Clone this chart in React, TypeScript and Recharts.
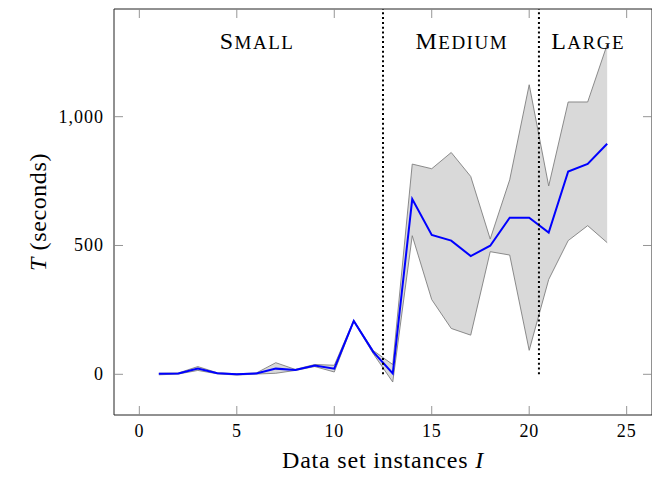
import React from "react";
import {
  ComposedChart,
  Area,
  Line,
  XAxis,
  YAxis,
  ReferenceLine,
  ReferenceArea,
  ReferenceDot,
  Label,
} from "recharts";

// data set instance index
const instances = [1, 2, 3, 4, 5, 6, 7, 8, 9, 10, 11, 12, 13, 14, 15, 16, 17, 18, 19, 20, 21, 22, 23, 24];
// mean runtime (seconds)
const meanT = [2, 3, 22, 4, 0, 3, 22, 17, 34, 22, 207, 87, 3, 680, 541, 519, 459, 499, 608, 608, 550, 787, 817, 895];
// min / max runtime (seconds)
const minT = [-2, 1, 15, 2, -3, 1, 4, 15, 30, 9, 205, 80, -30, 538, 290, 178, 152, 476, 463, 93, 368, 519, 577, 511];
const maxT = [4, 5, 30, 6, 2, 5, 45, 19, 38, 35, 210, 92, 38, 816, 798, 861, 768, 525, 755, 1124, 731, 1057, 1057, 1280];

const xTicks = [0, 5, 10, 15, 20, 25];
const yTicks = [0, 500, 1000];
const groupSplits = [12.5, 20.5];
const groups = [
  { name: "Small", x: 6.0 },
  { name: "Medium", x: 16.5 },
  { name: "Large", x: 22.98 },
];

const X_DOMAIN: [number, number] = [-1.3, 26.3];
const Y_DOMAIN: [number, number] = [-158, 1418];
const PLOT_W = 538;
const PLOT_H = 406;
const TICK = 9;
const FONT = "'Liberation Serif', 'DejaVu Serif', serif";

const data = instances.map((x, i) => ({
  x,
  mean: meanT[i],
  band: [minT[i], maxT[i]],
}));

const XTick = (props: any) => {
  const { x, y, payload } = props;
  return (
    <g>
      <line x1={x} x2={x} y1={y} y2={y - TICK} stroke="#8a8a8a" strokeWidth={0.9} />
      <line x1={x} x2={x} y1={y - PLOT_H} y2={y - PLOT_H + TICK} stroke="#8a8a8a" strokeWidth={0.9} />
      <text x={x} y={y + 22} textAnchor="middle" fontFamily={FONT} fontSize={18} letterSpacing={0.8} fill="#000">
        {payload.value}
      </text>
    </g>
  );
};

const YTick = (props: any) => {
  const { x, y, payload } = props;
  return (
    <g>
      <line x1={x} x2={x + TICK} y1={y} y2={y} stroke="#8a8a8a" strokeWidth={0.9} />
      <line x1={x + PLOT_W} x2={x + PLOT_W - TICK} y1={y} y2={y} stroke="#8a8a8a" strokeWidth={0.9} />
      <text x={x - 10} y={y + 6} textAnchor="end" fontFamily={FONT} fontSize={18} letterSpacing={1} fill="#000">
        {payload.value.toLocaleString("en-US")}
      </text>
    </g>
  );
};

const XTitle = (props: any) => {
  const vb = props.viewBox;
  return (
    <text
      x={vb.x + vb.width / 2}
      y={vb.y + 53}
      textAnchor="middle"
      fontFamily={FONT}
      fontSize={24}
      letterSpacing={0.8}
      fill="#000"
    >
      Data set instances <tspan fontStyle="italic">I</tspan>
    </text>
  );
};

const YTitle = (props: any) => {
  const vb = props.viewBox;
  const cx = 30;
  const cy = vb.y + vb.height / 2;
  return (
    <text
      x={cx}
      y={cy}
      transform={`rotate(-90 ${cx} ${cy})`}
      textAnchor="middle"
      dominantBaseline="central"
      fontFamily={FONT}
      fontSize={24}
      letterSpacing={0.6}
      fill="#000"
    >
      <tspan fontStyle="italic">T</tspan> (seconds)
    </text>
  );
};

// small caps by hand: first letter full size, rest smaller
const GroupLabel = (name: string) => (props: any) => {
  const vb = props.viewBox;
  return (
    <text x={vb.x + 0.8} y={vb.y} textAnchor="middle" fontFamily={FONT} letterSpacing={1.5} fill="#000">
      <tspan fontSize={24}>{name[0]}</tspan>
      <tspan fontSize={19}>{name.slice(1).toUpperCase()}</tspan>
    </text>
  );
};

export default function App() {
  return (
    <ComposedChart width={652} height={471} data={data} margin={{ top: 1, right: 8, bottom: 0, left: 0 }}>
      <XAxis
        type="number"
        dataKey="x"
        domain={X_DOMAIN}
        ticks={xTicks}
        allowDataOverflow
        axisLine={false}
        tickLine={false}
        tickSize={0}
        tickMargin={0}
        tick={<XTick />}
        height={64}
      >
        <Label content={<XTitle />} />
      </XAxis>
      <YAxis
        type="number"
        domain={Y_DOMAIN}
        ticks={yTicks}
        allowDataOverflow
        axisLine={false}
        tickLine={false}
        tickSize={0}
        tickMargin={0}
        tick={<YTick />}
        width={106}
      >
        <Label content={<YTitle />} />
      </YAxis>
      <Area
        type="linear"
        dataKey="band"
        stroke="#7f7f7f"
        strokeWidth={0.9}
        fill="#d9d9d9"
        fillOpacity={1}
        dot={false}
        activeDot={false}
        isAnimationActive={false}
      />
      <Line
        type="linear"
        dataKey="mean"
        stroke="#0000ff"
        strokeWidth={2}
        dot={false}
        activeDot={false}
        isAnimationActive={false}
      />
      {groupSplits.map((s) => (
        <ReferenceLine
          key={s}
          segment={[
            { x: s, y: 0 },
            { x: s, y: Y_DOMAIN[1] },
          ]}
          stroke="#000"
          strokeWidth={2}
          strokeDasharray="2 2.8"
        />
      ))}
      {groups.map((g) => (
        <ReferenceDot
          key={g.name}
          x={g.x}
          y={1262}
          r={0}
          fill="none"
          stroke="none"
          label={{ content: GroupLabel(g.name) }}
        />
      ))}
      <ReferenceArea
        x1={X_DOMAIN[0]}
        x2={X_DOMAIN[1]}
        y1={Y_DOMAIN[0]}
        y2={Y_DOMAIN[1]}
        fill="none"
        stroke="#222"
        strokeWidth={1}
      />
    </ComposedChart>
  );
}
